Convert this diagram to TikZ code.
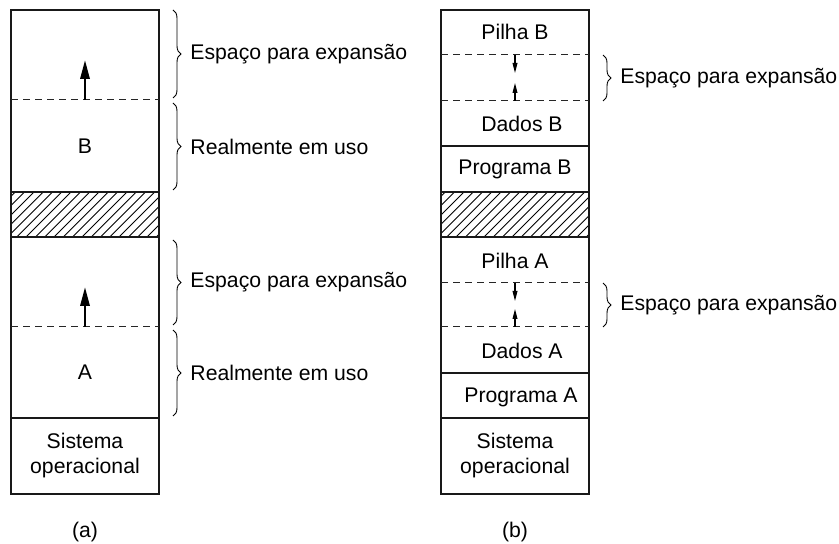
\documentclass[tikz,border=0pt]{standalone}
\usepackage{fontspec}
\setmainfont{Liberation Sans}
\usetikzlibrary{arrows.meta,decorations.pathreplacing}

\begin{document}
\begin{tikzpicture}[x=.5pt,y=-.5pt,
			every node/.style={font=\fontsize{10.6}{12.5}\selectfont,inner sep=0pt},
			box/.style={line width=1.1pt,draw=black!90},
			gap/.style={dash pattern=on 3.6pt off 2.4pt,line width=.5pt,draw=black!85},
			hatch/.style={line width=.45pt},
			brace/.style={decorate,decoration={brace,amplitude=4pt},line width=.45pt},
			uparrow/.style={-{Triangle[length=9.5pt,width=4.6pt]},line width=1.3pt},
			meet/.style={-{Triangle[length=5pt,width=2.4pt]},line width=.55pt}]
			\useasboundingbox (0,0) rectangle (839,544);
			\foreach \l in {11,441}{
				\begin{scope}
					\clip (\l,192) rectangle (\l+148,237);
					\foreach \i in {-50,-40.7,...,160}
					{\draw[hatch] (\l+\i,237)--++(45,-45);}
				\end{scope}
				\draw[box] (\l,10) rectangle (\l+148,494);
				\foreach \y in {192,237,418}
				{\draw[box] (\l,\y)--(\l+148,\y);}
			}
			\foreach \y in {100,327}
			{\draw[gap] (11,\y)--(159,\y);}
			\foreach \y in {146,373}
			{\draw[box] (441,\y)--(589,\y);}
			\foreach \y in {55,101,283,327}
			{\draw[gap] (441,\y)--(589,\y);}
			\node (blkB) at (85,146) {B};
			\node (blkA) at (85,372) {A};
			\node[align=center] (soa) at (85,456) {Sistema\\operacional};
			\node (pilhaB) at (515,32) {Pilha B};
			\node (dadosB) at (522,124) {Dados B};
			\node (progB) at (515,169) {Programa B};
			\node (pilhaA) at (515,261) {Pilha A};
			\node (dadosA) at (522,351) {Dados A};
			\node (progA) at (521,397) {Programa A};
			\node[align=center] (sob) at (515,456) {Sistema\\operacional};
			\node (capa) at (85,532) {(a)};
			\node (capb) at (515,532) {(b)};
			\coordinate (gB0) at (85,100);  \coordinate (gB1) at (85,60);
			\coordinate (gA0) at (85,327);  \coordinate (gA1) at (85,287);
			\coordinate (pB0) at (515,55);  \coordinate (pB1) at (515,73);
			\coordinate (dB0) at (515,101); \coordinate (dB1) at (515,83);
			\coordinate (pA0) at (515,283); \coordinate (pA1) at (515,301);
			\coordinate (dA0) at (515,327); \coordinate (dA1) at (515,309);
			\foreach \a/\b in {gB0/gB1,gA0/gA1}
			{\draw[uparrow] (\a)--(\b);}
			\foreach \a/\b in {pB0/pB1,dB0/dB1,pA0/pA1,dA0/dA1}
			{\draw[meet] (\a)--(\b);}
			\foreach \n/\x/\t/\b/\s in {expB/173/10/98/Espaço para expansão,
				usoB/173/103/190/Realmente em uso,
				expA/173/240/325/Espaço para expansão,
				usoA/173/330/416/Realmente em uso,
				livB/603/55/101/Espaço para expansão,
				livA/603/283/327/Espaço para expansão}
			{\draw[brace] (\x,\t)--(\x,\b) node[midway,anchor=west,xshift=8.5pt] (\n) {\s};}
		\end{tikzpicture}
\end{document}
